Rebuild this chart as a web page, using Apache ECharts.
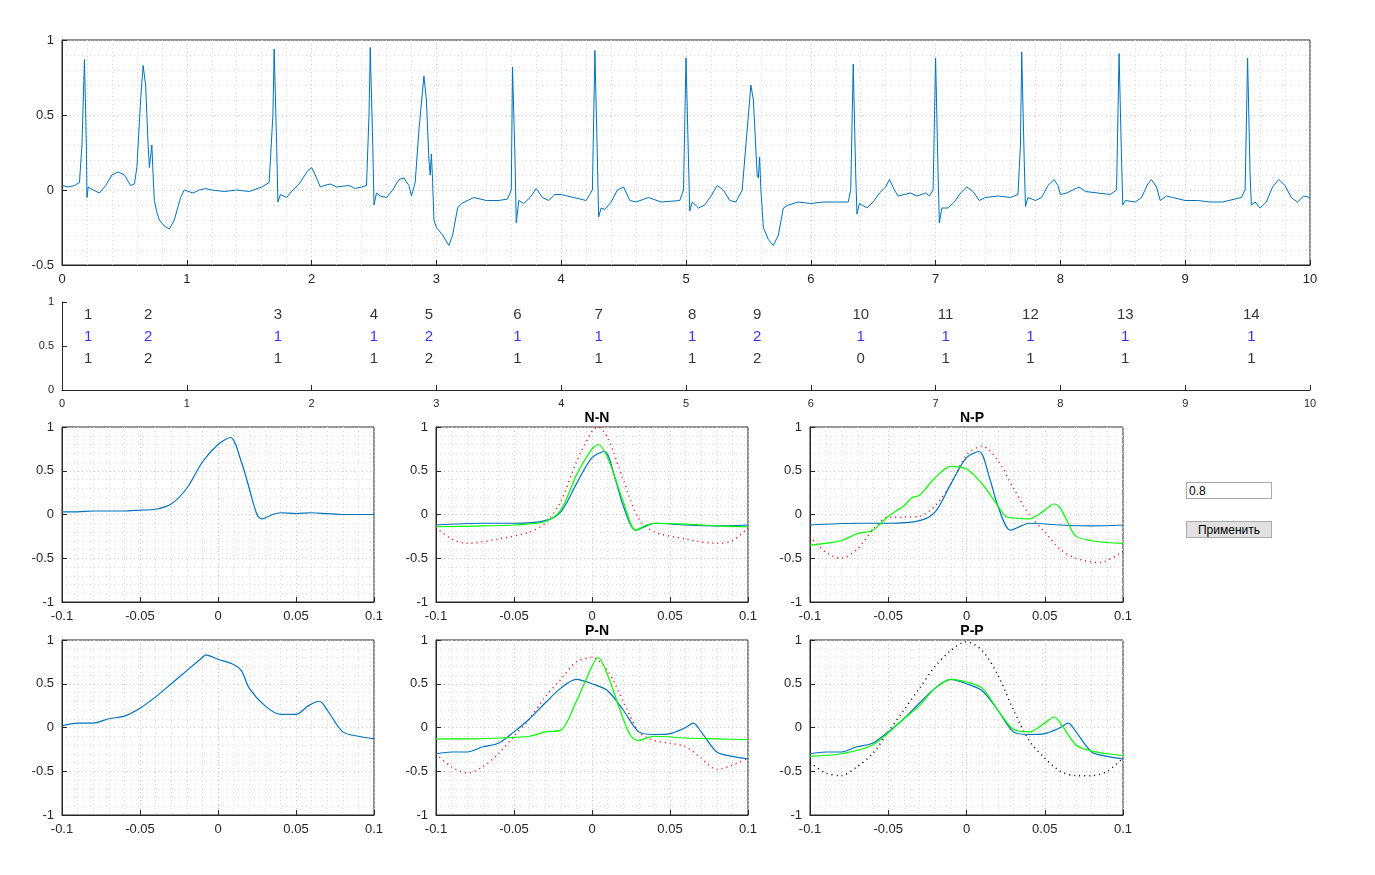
<!DOCTYPE html>
<html>
<head>
<meta charset="UTF-8">
<title>ECG</title>
<script src="https://cdn.jsdelivr.net/npm/echarts@6/dist/echarts.min.js"></script>
<style>
  body { margin:0; background:#fff; }
  #main { width:1375px; height:875px; }
  #thr { position:absolute; left:1186px; top:482px; width:80px; height:15px; border:1px solid #aaa; font:12px 'Liberation Sans',Arial; padding:0 2px; }
  #btn { position:absolute; left:1186px; top:521px; width:86px; height:17px; border:1px solid #aaa; background:#e1e1e1; font:12px 'Liberation Sans',Arial; padding:0; }
</style>
</head>
<body>
<div id="main"></div>
<input id="thr" value="0.8">
<button id="btn">Применить</button>
<script>
// ECG signal, [time s, mV]
var ecg = [[0,0.03],[0.05,0.02],[0.1,0.03],[0.14,0.05],[0.16,0.3],[0.18,0.87],[0.195,0.3],[0.2,-0.05],[0.21,0.02],[0.25,0],[0.3,-0.02],[0.35,0.03],[0.4,0.1],[0.45,0.12],[0.5,0.1],[0.55,0.03],[0.58,0.04],[0.6,0.15],[0.63,0.6],[0.65,0.83],[0.67,0.7],[0.69,0.3],[0.7,0.15],[0.71,0.14],[0.72,0.3],[0.73,0.1],[0.74,-0.07],[0.76,-0.15],[0.78,-0.2],[0.82,-0.24],[0.86,-0.26],[0.9,-0.2],[0.95,-0.05],[0.98,0],[1.05,-0.02],[1.1,0],[1.15,0.01],[1.2,0],[1.3,-0.01],[1.4,0],[1.5,-0.01],[1.6,0.02],[1.66,0.05],[1.69,0.5],[1.7,0.94],[1.72,0.3],[1.73,-0.08],[1.75,-0.03],[1.8,-0.05],[1.85,0],[1.9,0.04],[1.97,0.13],[2,0.15],[2.03,0.1],[2.07,0.02],[2.1,0.03],[2.15,0.04],[2.2,0.02],[2.3,0.03],[2.35,0.01],[2.4,0.02],[2.44,0.03],[2.46,0.5],[2.47,0.95],[2.49,0.3],[2.5,-0.1],[2.52,-0.02],[2.55,-0.04],[2.6,-0.05],[2.65,0],[2.7,0.07],[2.74,0.08],[2.78,0.03],[2.8,-0.04],[2.83,0.05],[2.86,0.4],[2.9,0.76],[2.92,0.6],[2.94,0.2],[2.95,0.1],[2.96,0.24],[2.97,0.05],[2.98,-0.2],[3,-0.25],[3.05,-0.3],[3.1,-0.37],[3.13,-0.3],[3.17,-0.12],[3.2,-0.09],[3.3,-0.05],[3.4,-0.07],[3.5,-0.07],[3.57,-0.06],[3.6,0],[3.61,0.82],[3.63,0.2],[3.64,-0.22],[3.66,-0.07],[3.7,-0.09],[3.75,-0.05],[3.8,0.01],[3.85,-0.05],[3.9,-0.07],[3.95,-0.03],[4,-0.03],[4.1,-0.05],[4.2,-0.07],[4.25,0],[4.27,0.93],[4.29,0.2],[4.3,-0.18],[4.32,-0.12],[4.35,-0.13],[4.4,-0.08],[4.45,0],[4.5,0.02],[4.55,-0.07],[4.6,-0.08],[4.7,-0.05],[4.8,-0.08],[4.95,-0.07],[4.98,0],[5,0.88],[5.02,0.2],[5.03,-0.14],[5.05,-0.08],[5.1,-0.12],[5.15,-0.1],[5.2,-0.04],[5.25,0.03],[5.3,0],[5.35,-0.07],[5.4,-0.08],[5.45,0],[5.48,0.3],[5.52,0.7],[5.54,0.6],[5.57,0.1],[5.58,0.08],[5.59,0.22],[5.6,0],[5.62,-0.25],[5.66,-0.33],[5.7,-0.37],[5.74,-0.3],[5.78,-0.12],[5.82,-0.1],[5.9,-0.08],[6,-0.09],[6.1,-0.08],[6.2,-0.08],[6.3,-0.08],[6.32,0],[6.34,0.84],[6.36,0.1],[6.37,-0.16],[6.39,-0.09],[6.45,-0.12],[6.5,-0.08],[6.55,-0.02],[6.6,0.02],[6.63,0.07],[6.67,0],[6.7,-0.04],[6.75,-0.03],[6.8,-0.02],[6.85,-0.04],[6.92,-0.02],[6.95,-0.04],[6.98,0],[7,0.88],[7.02,0.1],[7.03,-0.22],[7.05,-0.12],[7.1,-0.12],[7.15,-0.08],[7.2,-0.02],[7.25,0.02],[7.3,-0.01],[7.35,-0.07],[7.4,-0.05],[7.5,-0.04],[7.6,-0.05],[7.66,-0.03],[7.68,0.3],[7.69,0.92],[7.71,0.2],[7.72,-0.11],[7.74,-0.05],[7.8,-0.07],[7.85,-0.05],[7.9,0.03],[7.95,0.07],[7.98,0.03],[8,-0.03],[8.05,-0.02],[8.1,0],[8.15,0.02],[8.2,-0.01],[8.3,-0.02],[8.4,-0.03],[8.45,0],[8.47,0.91],[8.49,0.2],[8.5,-0.1],[8.52,-0.07],[8.6,-0.08],[8.65,-0.05],[8.7,0.04],[8.73,0.07],[8.77,0.02],[8.8,-0.07],[8.85,-0.04],[8.9,-0.05],[9,-0.07],[9.1,-0.07],[9.2,-0.08],[9.3,-0.08],[9.45,-0.05],[9.48,0],[9.5,0.88],[9.52,0.1],[9.53,-0.1],[9.56,-0.08],[9.6,-0.12],[9.65,-0.08],[9.7,0.02],[9.75,0.07],[9.8,0.03],[9.85,-0.05],[9.9,-0.08],[9.95,-0.04],[10,-0.05]];

// beat annotation rows
var beatX = [0.21,0.69,1.73,2.5,2.94,3.65,4.30,5.05,5.57,6.40,7.08,7.76,8.52,9.53];
var beatNum = [1,2,3,4,5,6,7,8,9,10,11,12,13,14];
var beatRef = [1,2,1,1,2,1,1,1,2,1,1,1,1,1];
var beatCls = [1,2,1,1,2,1,1,1,2,0,1,1,1,1];

// templates
var tplN = [[-0.1,0.03],[-0.09,0.03],[-0.08,0.04],[-0.07,0.04],[-0.06,0.04],[-0.05,0.05],[-0.04,0.06],[-0.03,0.12],[-0.02,0.3],[-0.01,0.6],[0,0.8],[0.008,0.88],[0.015,0.6],[0.02,0.3],[0.025,0],[0.028,-0.05],[0.035,0],[0.04,0.02],[0.05,0.01],[0.06,0.02],[0.07,0.01],[0.08,0],[0.09,0],[0.1,0]];
var tplP = [[-0.1,0.02],[-0.09,0.05],[-0.08,0.05],[-0.07,0.1],[-0.06,0.13],[-0.05,0.22],[-0.04,0.35],[-0.03,0.5],[-0.02,0.65],[-0.01,0.8],[-0.008,0.83],[0,0.78],[0.01,0.72],[0.015,0.65],[0.02,0.45],[0.03,0.25],[0.04,0.15],[0.05,0.15],[0.058,0.25],[0.065,0.3],[0.07,0.2],[0.08,-0.05],[0.09,-0.1],[0.1,-0.13]];
var nnBlue = [[-0.1,-0.12],[-0.07,-0.1],[-0.05,-0.1],[-0.03,-0.07],[-0.02,0.03],[-0.01,0.35],[0,0.65],[0.008,0.72],[0.015,0.4],[0.02,0.1],[0.028,-0.18],[0.035,-0.13],[0.04,-0.1],[0.06,-0.12],[0.08,-0.13],[0.1,-0.12]];
var nnGreen = [[-0.1,-0.14],[-0.07,-0.13],[-0.05,-0.12],[-0.03,-0.08],[-0.02,0.05],[-0.01,0.45],[0,0.75],[0.004,0.8],[0.01,0.65],[0.02,0.15],[0.028,-0.18],[0.035,-0.12],[0.04,-0.1],[0.06,-0.11],[0.08,-0.13],[0.1,-0.14]];
var nnDot = [[-0.1,-0.15],[-0.09,-0.28],[-0.08,-0.33],[-0.06,-0.28],[-0.04,-0.2],[-0.03,-0.1],[-0.02,0.15],[-0.01,0.6],[0,0.95],[0.004,1],[0.01,0.88],[0.02,0.4],[0.03,-0.05],[0.04,-0.2],[0.06,-0.28],[0.08,-0.33],[0.09,-0.3],[0.1,-0.15]];
var npGreen = [[-0.1,-0.35],[-0.09,-0.33],[-0.08,-0.3],[-0.07,-0.22],[-0.06,-0.18],[-0.05,-0.02],[-0.04,0.1],[-0.035,0.19],[-0.03,0.22],[-0.02,0.42],[-0.01,0.55],[0,0.52],[0.01,0.35],[0.02,0.1],[0.025,-0.02],[0.03,-0.04],[0.04,-0.05],[0.05,0.05],[0.056,0.12],[0.06,0.07],[0.065,-0.1],[0.07,-0.25],[0.08,-0.3],[0.09,-0.32],[0.1,-0.33]];
var npDot = [[-0.1,-0.25],[-0.09,-0.43],[-0.08,-0.5],[-0.07,-0.4],[-0.06,-0.18],[-0.05,-0.03],[-0.04,-0.03],[-0.03,-0.02],[-0.02,0.1],[-0.01,0.35],[0,0.68],[0.01,0.78],[0.02,0.62],[0.03,0.3],[0.04,0],[0.05,-0.2],[0.06,-0.4],[0.07,-0.5],[0.085,-0.55],[0.1,-0.42]];
var pnBlue = [[-0.1,-0.3],[-0.09,-0.28],[-0.08,-0.28],[-0.07,-0.22],[-0.06,-0.18],[-0.05,-0.05],[-0.04,0.1],[-0.03,0.28],[-0.02,0.45],[-0.01,0.55],[0,0.5],[0.01,0.42],[0.02,0.2],[0.03,-0.05],[0.04,-0.08],[0.05,-0.07],[0.06,0],[0.065,0.05],[0.07,-0.05],[0.08,-0.28],[0.09,-0.33],[0.1,-0.36]];
var pnGreen = [[-0.1,-0.13],[-0.08,-0.13],[-0.06,-0.12],[-0.04,-0.1],[-0.03,-0.05],[-0.02,-0.03],[-0.01,0.3],[0,0.7],[0.004,0.8],[0.01,0.6],[0.02,0.1],[0.025,-0.1],[0.03,-0.15],[0.035,-0.12],[0.04,-0.1],[0.06,-0.12],[0.08,-0.13],[0.1,-0.14]];
var pnDot = [[-0.1,-0.3],[-0.09,-0.45],[-0.08,-0.52],[-0.07,-0.45],[-0.06,-0.3],[-0.05,-0.1],[-0.04,0.1],[-0.03,0.35],[-0.02,0.55],[-0.01,0.75],[0,0.8],[0.01,0.65],[0.02,0.3],[0.03,-0.05],[0.04,-0.15],[0.05,-0.18],[0.06,-0.22],[0.07,-0.35],[0.08,-0.48],[0.09,-0.43],[0.1,-0.35]];
var ppGreen = [[-0.1,-0.33],[-0.08,-0.3],[-0.06,-0.2],[-0.04,0.1],[-0.03,0.25],[-0.02,0.45],[-0.01,0.55],[0,0.52],[0.01,0.45],[0.02,0.2],[0.03,-0.02],[0.04,-0.05],[0.05,0.05],[0.056,0.12],[0.06,0.05],[0.07,-0.2],[0.08,-0.27],[0.09,-0.3],[0.1,-0.32]];
var ppDot = [[-0.1,-0.4],[-0.09,-0.52],[-0.08,-0.55],[-0.07,-0.45],[-0.06,-0.3],[-0.05,-0.05],[-0.04,0.2],[-0.03,0.45],[-0.02,0.7],[-0.01,0.88],[0,0.98],[0.01,0.88],[0.02,0.6],[0.03,0.2],[0.04,-0.15],[0.05,-0.35],[0.06,-0.5],[0.07,-0.55],[0.08,-0.55],[0.09,-0.5],[0.1,-0.35]];

var BLUE = '#0072bd', FONT = 'Liberation Sans';
var chart = echarts.init(document.getElementById('main'));

var grids = [
  {left:62, top:40, width:1248, height:225},
  {left:62, top:302, width:1248, height:88},
  {left:62, top:427, width:312, height:175},
  {left:436, top:427, width:312, height:175},
  {left:810, top:427, width:313, height:175},
  {left:62, top:640, width:312, height:175},
  {left:436, top:640, width:312, height:175},
  {left:810, top:640, width:313, height:175}
];
grids.forEach(function (g, i) {
  if (i !== 1) { g.show = true; g.borderColor = '#262626'; g.borderWidth = 1; g.backgroundColor = '#fff'; }
});

function axisCommon(extra) {
  return Object.assign({
    axisLine: {show: true, onZero: false, lineStyle: {color: '#262626'}},
    axisTick: {show: true, inside: true, length: 5, lineStyle: {color: '#262626'}},
    axisLabel: {color: '#262626', fontFamily: FONT, fontSize: 13},
    splitLine: {show: true, lineStyle: {color: '#c8c8c8', type: [1, 3]}},
    minorTick: {show: true, splitNumber: 5, length: 0},
    minorSplitLine: {show: true, lineStyle: {color: '#d8d8d8', type: [1, 3]}}
  }, extra);
}

var xAxes = [], yAxes = [];
xAxes.push(axisCommon({gridIndex: 0, type: 'value', min: 0, max: 10, interval: 1}));
xAxes.push(axisCommon({gridIndex: 1, type: 'value', min: 0, max: 10, interval: 1, axisLabel: {color: '#262626', fontFamily: FONT, fontSize: 11}, splitLine: {show: false}, minorTick: {show: false}, minorSplitLine: {show: false}}));
yAxes.push(axisCommon({gridIndex: 0, type: 'value', min: -0.5, max: 1, interval: 0.5}));
yAxes.push(axisCommon({gridIndex: 1, type: 'value', min: 0, max: 1, interval: 0.5, axisLabel: {color: '#262626', fontFamily: FONT, fontSize: 11}, splitLine: {show: false}, minorTick: {show: false}, minorSplitLine: {show: false}}));
for (var g = 2; g < 8; g++) {
  xAxes.push(axisCommon({gridIndex: g, type: 'value', min: -0.1, max: 0.1, interval: 0.05}));
  yAxes.push(axisCommon({gridIndex: g, type: 'value', min: -1, max: 1, interval: 0.5}));
}

function line(idx, data, color, dotted, w) {
  return {type: 'line', xAxisIndex: idx, yAxisIndex: idx, data: data, symbol: 'none', smooth: idx > 1 ? 0.3 : false,
    lineStyle: {color: color, width: w || 1.2, type: dotted ? [1, 4] : 'solid'}, silent: true, animation: false};
}
function labels(vals, y, color) {
  return {type: 'scatter', xAxisIndex: 1, yAxisIndex: 1, symbolSize: 0, animation: false,
    data: vals.map(function (v, i) { return [beatX[i], y, v]; }),
    label: {show: true, position: 'inside', formatter: function (p) { return p.data[2]; }, color: color, fontFamily: FONT, fontSize: 15}};
}

var series = [
  line(0, ecg, BLUE, false, 1),
  labels(beatNum, 0.85, '#000'),
  labels(beatRef, 0.6, '#0000ff'),
  labels(beatCls, 0.35, '#000'),
  line(2, tplN, BLUE),
  line(3, nnDot, '#ff0000', true, 1.5), line(3, nnBlue, BLUE), line(3, nnGreen, '#00ff00'),
  line(4, npDot, '#ff0000', true, 1.5), line(4, nnBlue, BLUE), line(4, npGreen, '#00ff00'),
  line(5, tplP, BLUE),
  line(6, pnDot, '#ff0000', true, 1.5), line(6, pnBlue, BLUE), line(6, pnGreen, '#00ff00'),
  line(7, ppDot, '#000000', true, 1.5), line(7, pnBlue, BLUE), line(7, ppGreen, '#00ff00')
];

var titles = [['N-N', 592, 406], ['N-P', 967, 406], ['P-N', 592, 619], ['P-P', 967, 619]].map(function (t) {
  return {text: t[0], left: t[1], top: t[2], textAlign: 'center', textStyle: {fontFamily: FONT, fontSize: 14, fontWeight: 'bold', color: '#000'}};
});

chart.setOption({
  backgroundColor: '#fff',
  title: titles,
  grid: grids,
  xAxis: xAxes,
  yAxis: yAxes,
  series: series
});
</script>
</body>
</html>
